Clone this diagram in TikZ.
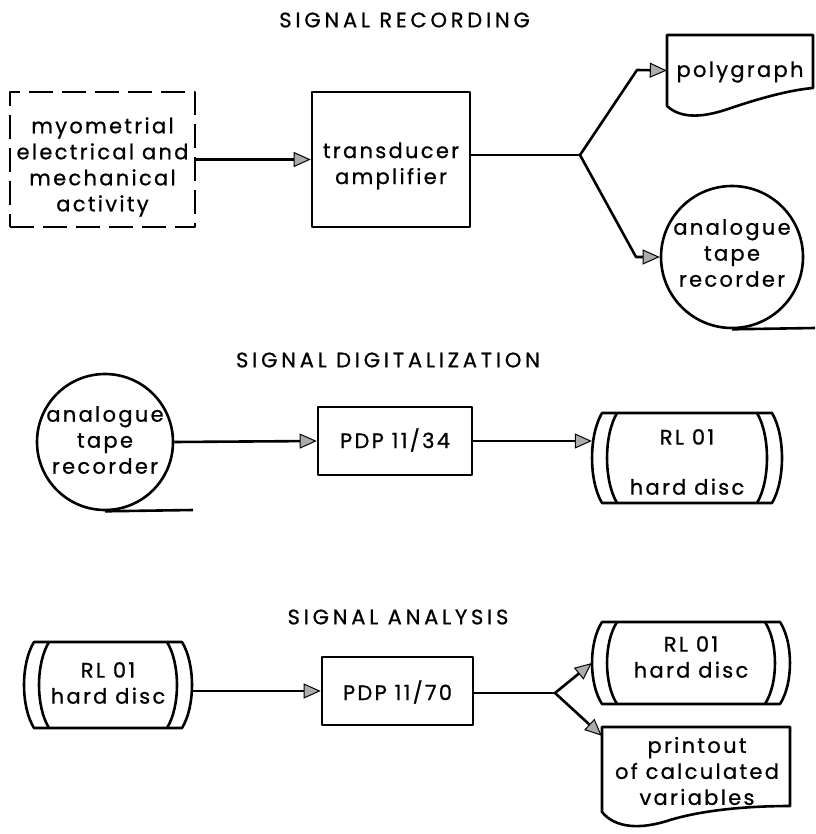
\documentclass[tikz,border=0pt]{standalone}
\usepackage{fontspec}
\setmainfont{Poppins}
\newfontfamily\lblfont[LetterSpace=11,FakeBold=0.8]{Poppins}
\newfontfamily\ttlfont[LetterSpace=18,FakeBold=0.8]{Poppins}
\usetikzlibrary{arrows.meta,calc}
\newcommand\discpath[4]{%
  \draw[ln] (#1-#3+10,#2-#4) -- (#1+#3-10,#2-#4)
    .. controls (#1+#3+3.3,#2-#4/2) and (#1+#3+3.3,#2+#4/2) .. (#1+#3-10,#2+#4)
    -- (#1-#3+10,#2+#4)
    .. controls (#1-#3-3.3,#2+#4/2) and (#1-#3-3.3,#2-#4/2) .. (#1-#3+10,#2-#4) -- cycle;
  \draw[ln] (#1-#3+25,#2-#4) .. controls (#1-#3+11.7,#2-#4/2) and (#1-#3+11.7,#2+#4/2) .. (#1-#3+25,#2+#4);
  \draw[ln] (#1+#3-25,#2-#4) .. controls (#1+#3-11.7,#2-#4/2) and (#1+#3-11.7,#2+#4/2) .. (#1+#3-25,#2+#4);
}
\tikzset{
  ln/.style={line width=2.6pt, line join=round},
  arr/.style={ln, -{Triangle[length=17pt,width=15pt,fill=gray!65,line width=1pt]}},
  boxed/.style={draw, ln, inner sep=0pt},
  ghost/.style={inner sep=0pt},
  lbl/.style={font=\lblfont\fontsize{21}{26}\selectfont, align=center, inner sep=0pt},
  ttl/.style={font=\ttlfont\fontsize{21}{25}\selectfont, inner sep=0pt},
}
\begin{document}
\begin{tikzpicture}[x=1pt,y=-1pt]
\useasboundingbox (0,0) rectangle (815,834);

% ---------- SIGNAL RECORDING ----------
\node[ttl, anchor=east] (t1) at (530,20) {SIGNAL RECORDING};

\node[boxed, dash pattern=on 24pt off 9pt, minimum width=185pt, minimum height=135pt] (src) at (102.5,159.5) {};
\node[lbl] (srctxt) at (102.5,167) {myometrial\\electrical and\\mechanical\\activity};

\node[boxed, minimum width=158pt, minimum height=135pt] (tra) at (391,159.5) {};
\node[lbl] (tratxt) at (391,166) {transducer\\amplifier};

\draw[arr] (src.east) -- (tra.west);

\coordinate (j1) at (580,155);
\coordinate (b1) at (637,70);
\coordinate (b2) at (636,257);

% polygraph document
\node[ghost, minimum width=146pt, minimum height=71pt] (poly) at (740,70.5) {};
\draw[ln] (667,106) -- (667,35) -- (813,35) -- (813,88)
   .. controls (790,90) and (760,98) .. (725,110)
   .. controls (700,118) and (680,118) .. (667,106) -- cycle;
\node[lbl] (polytxt) at (740,72) {polygraph};

% analogue tape recorder (row 1)
\node[boxed, circle, minimum size=142pt] (c1) at (732,257) {};
\node[lbl] (c1txt) at (732,253) {analogue\\tape\\recorder};
\coordinate (tail1) at (815,328);
\draw[ln] (c1.south) -- (tail1);

\draw[ln] (tra.east |- j1) -- (j1);
\draw[arr] (j1) -- (b1) -- (poly.west);
\draw[arr] (j1) -- (b2) -- (c1.west);

% ---------- SIGNAL DIGITALIZATION ----------
\node[ttl] (t2) at (388,360) {SIGNAL DIGITALIZATION};

\node[boxed, circle, minimum size=136pt] (c2) at (105,442) {};
\node[lbl] (c2txt) at (105,440) {analogue\\tape\\recorder};
\coordinate (tail2) at (193,510);
\draw[ln] (c2.south) -- (tail2);

\node[boxed, minimum width=154pt, minimum height=68pt] (p34) at (395,441) {};
\node[lbl] (p34txt) at (395,440) {PDP 11/34};

\discpath{687}{458}{95}{45}
\node[ghost, minimum width=190pt, minimum height=90pt] (d2) at (687,458) {};
\node[lbl] (d2txt) at (687,462) {RL 01\\[24pt]hard disc};

\draw[arr] (c2.east) -- (p34.west);
\draw[arr] (p34.east) -- (p34.east -| d2.west);

% ---------- SIGNAL ANALYSIS ----------
\node[ttl] (t3) at (398,617) {SIGNAL ANALYSIS};

\discpath{108}{685}{84}{43}
\node[ghost, minimum width=168pt, minimum height=86pt] (d3) at (108,685) {};
\node[lbl] (d3txt) at (108,683) {RL 01\\hard disc};

\node[boxed, minimum width=151pt, minimum height=68pt] (p70) at (397.5,691) {};
\node[lbl] (p70txt) at (397.5,692) {PDP 11/70};

\draw[arr] (d3.east |- p70.west) -- (p70.west);

\coordinate (j3) at (555,693);
\draw[ln] (p70.east |- j3) -- (j3);

\discpath{691}{663}{99}{41}
\node[ghost, minimum width=198pt, minimum height=82pt] (d4) at (691,663) {};
\node[lbl] (d4txt) at (691,657) {RL 01\\hard disc};

\node[ghost, minimum width=188pt, minimum height=85pt] (pr) at (696,769.5) {};
\draw[ln] (602,812) -- (602,727) -- (790,727) -- (790,806)
   .. controls (760,806) and (710,808) .. (670,820)
   .. controls (640,830) and (615,828) .. (602,812) -- cycle;
\node[lbl] (prtxt) at (697,771) {printout\\of calculated\\variables};

\draw[arr] (j3) -- (d4.west);
\draw[arr] (j3) -- ($(pr.north west)+(0,9)$);
\end{tikzpicture}
\end{document}
